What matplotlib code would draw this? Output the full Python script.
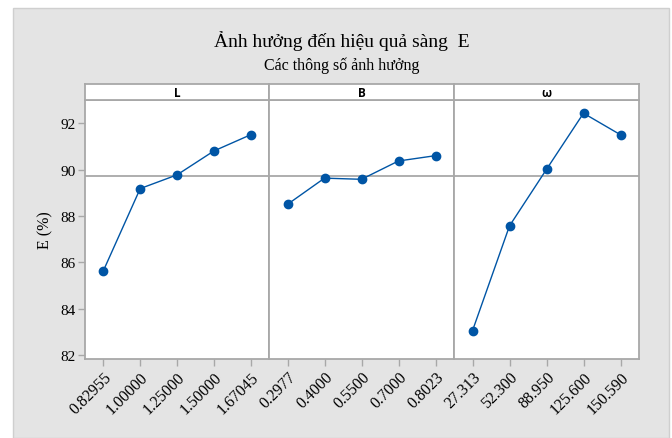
import matplotlib
matplotlib.use('Agg')
import matplotlib.pyplot as plt
from matplotlib.patches import Rectangle

# Main effects of each factor on screening efficiency E
factors = ['L', 'B', 'ω']
levels_L = ['0.82955', '1.00000', '1.25000', '1.50000', '1.67045']
levels_B = ['0.2977', '0.4000', '0.5500', '0.7000', '0.8023']
levels_w = ['27.313', '52.300', '88.950', '125.600', '150.590']
mean_L = [85.64, 89.18, 89.77, 90.80, 91.50]
mean_B = [88.50, 89.63, 89.58, 90.37, 90.60]
mean_w = [83.05, 87.57, 90.01, 92.43, 91.50]
grand_mean = 89.73
yticks = [82, 84, 86, 88, 90, 92]

serif = ['Liberation Serif', 'DejaVu Serif']
blue = '#0055a5'
frame = '#a8a8a8'

W, H = 672, 439
fig = plt.figure(figsize=(W / 100, H / 100), dpi=100, facecolor='white')

# gray background panel
fig.patches.append(Rectangle((13 / W, 0), (669 - 13) / W, (H - 9) / H,
                             transform=fig.transFigure, facecolor='#e4e4e4',
                             edgecolor='#cfcfcf', lw=1, zorder=-1))

edges = [85, 269, 454, 639]
bottom = 1 - 360 / H
height = (360 - 101) / H
strip_b = 1 - 101 / H
strip_h = 16 / H

levels = [levels_L, levels_B, levels_w]
means = [mean_L, mean_B, mean_w]

for i in range(3):
    x0 = edges[i] / W
    w = (edges[i + 1] - edges[i]) / W
    ax = fig.add_axes([x0, bottom, w, height])
    ax.set_facecolor('white')
    xs = list(range(len(levels[i])))
    ax.axhline(grand_mean, color=frame, lw=1.3, zorder=1)
    ax.plot(xs, means[i], color=blue, lw=1, marker='o', markersize=6,
            zorder=3)
    ax.set_xlim(-0.5, 4.5)
    ax.set_ylim(81.83, 93.0)
    ax.set_xticks(xs)
    ax.set_xticklabels(levels[i], rotation=45, ha='right',
                       rotation_mode='anchor', family=serif, fontsize=11.5)
    ax.set_yticks(yticks)
    if i == 0:
        ax.set_yticklabels([str(t) for t in yticks], family=serif,
                           fontsize=11)
        ax.tick_params(axis='y', length=5, width=1, color=frame, pad=1.5)
    else:
        ax.tick_params(axis='y', left=False, labelleft=False)
    ax.tick_params(axis='x', length=5, width=1, color=frame, pad=2)
    for s in ax.spines.values():
        s.set_color(frame)
        s.set_linewidth(1.3)

    sax = fig.add_axes([x0, strip_b, w, strip_h])
    sax.set_facecolor('white')
    sax.set_xticks([])
    sax.set_yticks([])
    for s in sax.spines.values():
        s.set_color(frame)
        s.set_linewidth(1.3)
    sax.text(0.5, 0.45, factors[i], ha='center', va='center',
             transform=sax.transAxes, fontsize=8.5, fontweight='bold',
             family=['Open Sans', 'DejaVu Sans'])

fig.text(342 / W, 1 - 47 / H, 'Ảnh hưởng đến hiệu quả sàng  E',
         ha='center', va='baseline', fontsize=14, family=serif)
fig.text(342 / W, 1 - 70 / H, 'Các thông số ảnh hưởng',
         ha='center', va='baseline', fontsize=11.5, family=serif)
fig.text(45 / W, 1 - 230 / H, 'E (%)', rotation=90, ha='center',
         va='center', fontsize=11.5, family=serif)

fig.savefig('out.png', dpi=100, facecolor='white')
